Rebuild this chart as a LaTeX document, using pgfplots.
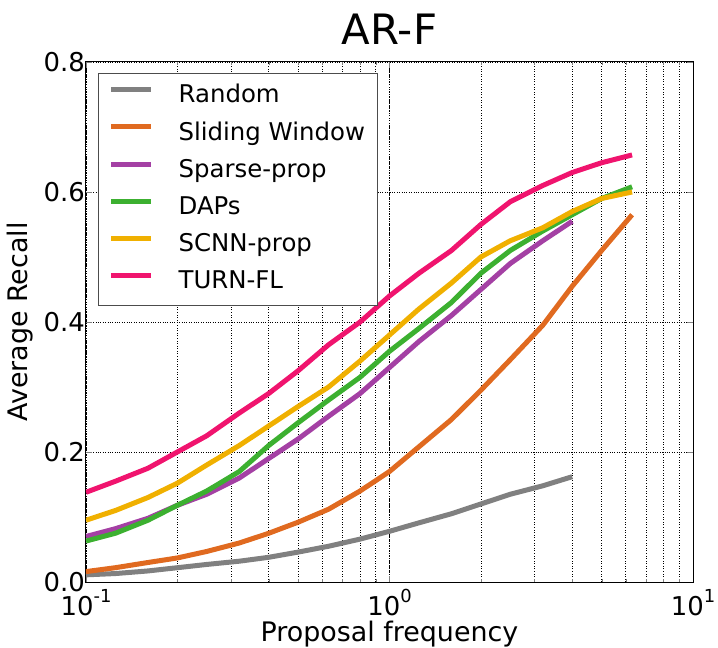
\documentclass[border=0pt]{standalone}
\usepackage{pgfplots}
\pgfplotsset{compat=1.18}
\usepackage{fontspec}
\setmainfont{DejaVu Sans}
\definecolor{cRandom}{RGB}{128,128,128}
\definecolor{cSliding}{RGB}{224,106,32}
\definecolor{cSparse}{RGB}{164,64,164}
\definecolor{cDAPs}{RGB}{60,176,48}
\definecolor{cSCNN}{RGB}{240,176,0}
\definecolor{cTURN}{RGB}{240,20,110}
\newcommand{\tenpow}[1]{10\raisebox{0.5em}{\fontsize{18}{18}\selectfont #1}}
\begin{document}
\begin{tikzpicture}
\begin{axis}[
  name=ax,
  scale only axis,
  width=607bp, height=520bp,
  xmode=log, xmin=0.1, xmax=10, ymin=0, ymax=0.8,
  xtick={0.1,1,10},
  xticklabels={\tenpow{-1},\tenpow{0},\tenpow{1}},
  ytick={0,0.2,0.4,0.6,0.8},
  yticklabel style={/pgf/number format/fixed,/pgf/number format/fixed zerofill,/pgf/number format/precision=1, inner xsep=1bp},
  xticklabel style={inner ysep=7bp},
  /pgf/number format/assume math mode=true,
  tick label style={font=\fontsize{26}{30}\selectfont},
  xmajorgrids, xminorgrids, ymajorgrids,
  grid style={black, dotted, line width=0.6pt},
  minor grid style={black, dotted, line width=0.6pt},
  tick align=inside,
  major tick length=6bp, minor tick length=3bp,
  axis line style={line width=1pt},
  xlabel={Proposal frequency}, ylabel={Average Recall},
  label style={font=\fontsize{27}{32}\selectfont},
  xlabel style={yshift=5bp},
  ylabel style={yshift=6bp},
  title={AR-F},
  title style={font=\fontsize{42}{48}\selectfont, at={(0.5,1)}, anchor=base, yshift=12bp},
  legend style={at={(0.02,0.979)}, anchor=north west, draw=black!70, line width=1pt,
    font=\fontsize{24.5}{29}\selectfont, row sep=6.7bp, inner xsep=10bp, inner ysep=8bp,
    nodes={inner sep=3bp, text height=18.4bp, text depth=6.1bp}},
  legend cell align=left,
  legend image code/.code={\draw[#1, line width=5bp] (0bp,7bp) -- (40bp,7bp); \path (62bp,7bp);},
  every axis plot/.append style={line width=5bp, line join=round},
]
\addplot[cRandom] coordinates {(0.1,0.011)(0.125,0.013)(0.16,0.017)(0.2,0.022)(0.25,0.027)(0.32,0.032)(0.4,0.038)(0.5,0.046)(0.63,0.055)(0.8,0.066)(1,0.078)(1.25,0.091)(1.6,0.105)(2,0.12)(2.5,0.135)(3.2,0.148)(4,0.162)};
\addlegendentry{Random}
\addplot[cSliding] coordinates {(0.1,0.016)(0.125,0.022)(0.16,0.03)(0.2,0.037)(0.25,0.047)(0.32,0.06)(0.4,0.075)(0.5,0.092)(0.63,0.112)(0.8,0.14)(1,0.17)(1.25,0.208)(1.6,0.25)(2,0.295)(2.5,0.342)(3.2,0.395)(4,0.455)(5,0.51)(6.3,0.565)};
\addlegendentry{Sliding Window}
\addplot[cSparse] coordinates {(0.1,0.07)(0.125,0.082)(0.16,0.098)(0.2,0.118)(0.25,0.135)(0.32,0.16)(0.4,0.19)(0.5,0.22)(0.63,0.255)(0.8,0.29)(1,0.33)(1.25,0.37)(1.6,0.41)(2,0.45)(2.5,0.49)(3.2,0.525)(4,0.555)};
\addlegendentry{Sparse-prop}
\addplot[cDAPs] coordinates {(0.1,0.063)(0.125,0.075)(0.16,0.095)(0.2,0.118)(0.25,0.14)(0.32,0.17)(0.4,0.21)(0.5,0.245)(0.63,0.28)(0.8,0.315)(1,0.355)(1.25,0.39)(1.6,0.43)(2,0.475)(2.5,0.51)(3.2,0.54)(4,0.565)(5,0.59)(6.3,0.608)};
\addlegendentry{DAPs}
\addplot[cSCNN] coordinates {(0.1,0.095)(0.125,0.11)(0.16,0.13)(0.2,0.152)(0.25,0.18)(0.32,0.21)(0.4,0.24)(0.5,0.27)(0.63,0.30)(0.8,0.34)(1,0.38)(1.25,0.42)(1.6,0.46)(2,0.50)(2.5,0.525)(3.2,0.545)(4,0.57)(5,0.59)(6.3,0.60)};
\addlegendentry{SCNN-prop}
\addplot[cTURN] coordinates {(0.1,0.138)(0.125,0.155)(0.16,0.175)(0.2,0.2)(0.25,0.225)(0.32,0.26)(0.4,0.29)(0.5,0.325)(0.63,0.365)(0.8,0.40)(1,0.44)(1.25,0.475)(1.6,0.51)(2,0.55)(2.5,0.585)(3.2,0.61)(4,0.63)(5,0.645)(6.3,0.657)};
\addlegendentry{TURN-FL}
\end{axis}
\pgfresetboundingbox
\path ([xshift=-86bp,yshift=-66bp]ax.south west) rectangle ([xshift=25bp,yshift=62bp]ax.north east);
\end{tikzpicture}
\end{document}
